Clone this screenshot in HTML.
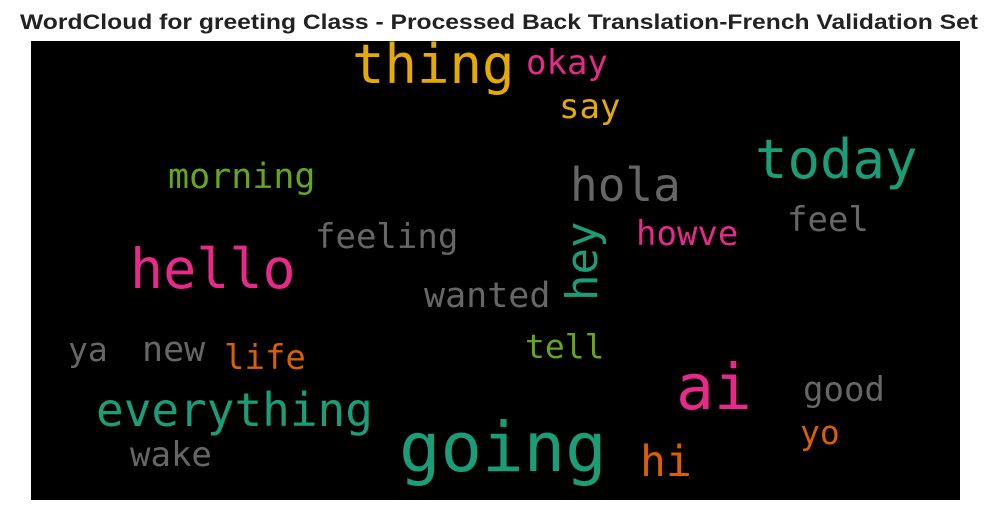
<!DOCTYPE html>
<html><head><meta charset="utf-8"><style>
html,body{margin:0;padding:0;background:#fff;width:989px;height:511px;overflow:hidden}
svg text.w{font-family:"DejaVu Sans Mono","Liberation Mono",monospace}
</style></head><body>
<svg width="989" height="511">
<text x="499" y="29" text-anchor="middle" font-family="Liberation Sans, sans-serif" font-weight="bold" font-size="21" fill="#222" textLength="958" lengthAdjust="spacingAndGlyphs">WordCloud for greeting Class - Processed Back Translation-French Validation Set</text>
<rect x="31" y="41" width="929" height="459" fill="#000"/>
<g id="words"></g>
</svg>
<script>
const words=["thing","okay","say","today","hola","morning","feeling","feel","howve","hello","wanted","tell","ya","new","life","ai","good","everything","yo","going","hi","wake"];
const sizes=[54,34,34,54,46,35,34,34,34,55,35,33,33,35,34,63,34,46,33,69,43,34];
const colors=["#e6ab02","#e7298a","#e6ab02","#1b9e77","#666666","#66a61e","#666666","#666666","#e7298a","#e7298a","#666666","#66a61e","#666666","#666666","#d95f02","#e7298a","#666666","#1b9e77","#d95f02","#1b9e77","#d95f02","#666666"];
const xs=[352,526,559,755,570,168,315,787,636,130,424,525,68,142,224,676,803,96,800,399,640,130];
const ys=[83,74,118,178,201,188,248,231,245,288,307,358,361,361,369,409,401,426,444,471,476,466];
const g=document.getElementById('words');
const NS="http://www.w3.org/2000/svg";
for(let i=0;i<words.length;i++){
  const t=document.createElementNS(NS,'text');
  
  
  t.setAttribute('class','w');
  t.setAttribute('x',xs[i]);t.setAttribute('y',ys[i]);
  t.setAttribute('font-size',sizes[i]);t.setAttribute('fill',colors[i]);
  t.textContent=words[i];g.appendChild(t);
}
const h=document.createElementNS(NS,'text');


h.setAttribute('class','w');
h.setAttribute('transform','translate(597,301) rotate(-90)');
h.setAttribute('font-size',44);h.setAttribute('fill','#1b9e77');
h.textContent='hey';g.appendChild(h);
</script>
</body></html>
